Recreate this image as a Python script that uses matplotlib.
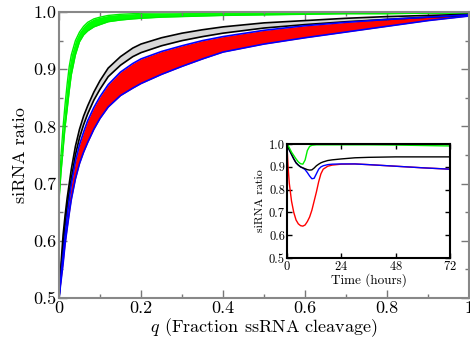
import numpy as np
import matplotlib.pyplot as plt
from matplotlib.ticker import MultipleLocator

plt.rcParams['font.family'] = 'serif'
plt.rcParams['font.serif'] = ['cmr10', 'DejaVu Serif']
plt.rcParams['mathtext.fontset'] = 'cm'
plt.rcParams['axes.formatter.use_mathtext'] = True

# main panel: ratio vs q, three bands (lower / upper edge)
q = [0, 0.0025, 0.005, 0.0075, 0.01, 0.015, 0.02, 0.025, 0.03, 0.04,
     0.05, 0.06, 0.07, 0.085, 0.1, 0.12, 0.15, 0.18, 0.2, 0.25,
     0.3, 0.35, 0.4, 0.5, 0.6, 0.7, 0.8, 0.9, 1.0]
green_lo = [0.67, 0.695, 0.72, 0.74, 0.76, 0.80, 0.83, 0.862, 0.89, 0.925,
            0.948, 0.96, 0.967, 0.974, 0.978, 0.983, 0.986, 0.988, 0.989, 0.991,
            0.992, 0.993, 0.994, 0.995, 0.996, 0.997, 0.997, 0.998, 0.998]
green_hi = [0.68, 0.715, 0.75, 0.775, 0.80, 0.84, 0.875, 0.905, 0.925, 0.95,
            0.965, 0.975, 0.982, 0.988, 0.991, 0.994, 0.996, 0.997, 0.998, 0.9985,
            0.999, 0.9993, 0.9995, 1.0, 1.0, 1.0, 1.0, 1.0, 1.0]
black_lo = [0.5, 0.525, 0.55, 0.57, 0.59, 0.628, 0.66, 0.685, 0.708, 0.75,
            0.78, 0.803, 0.822, 0.846, 0.865, 0.887, 0.907, 0.922, 0.929, 0.941,
            0.95, 0.957, 0.963, 0.972, 0.978, 0.983, 0.987, 0.991, 0.994]
black_hi = [0.5, 0.53, 0.56, 0.585, 0.61, 0.645, 0.675, 0.70, 0.725, 0.765,
            0.795, 0.818, 0.836, 0.86, 0.88, 0.902, 0.922, 0.937, 0.944, 0.955,
            0.963, 0.969, 0.974, 0.981, 0.985, 0.989, 0.992, 0.994, 0.996]
red_lo = [0.5, 0.515, 0.53, 0.545, 0.56, 0.595, 0.622, 0.648, 0.672, 0.708,
          0.735, 0.755, 0.772, 0.795, 0.814, 0.834, 0.854, 0.867, 0.875, 0.891,
          0.905, 0.918, 0.93, 0.944, 0.955, 0.965, 0.975, 0.985, 0.993]
red_hi = [0.5, 0.52, 0.54, 0.558, 0.575, 0.61, 0.643, 0.672, 0.698, 0.738,
          0.768, 0.79, 0.81, 0.833, 0.852, 0.873, 0.895, 0.91, 0.918, 0.931,
          0.941, 0.95, 0.957, 0.968, 0.976, 0.982, 0.987, 0.991, 0.995]

# inset: ratio vs time (hours)
t = [0, 0.5, 1, 2, 3, 4, 5, 6, 7, 8, 9, 10, 11, 12, 13, 14, 15, 16,
     18, 20, 24, 30, 36, 48, 60, 72]
g_t = [1.0, 0.993, 0.985, 0.965, 0.95, 0.935, 0.922, 0.914, 0.912, 0.93, 0.972,
       0.99, 0.995, 0.996, 0.997, 0.997, 0.997, 0.997, 0.997, 0.997, 0.997,
       0.997, 0.997, 0.996, 0.994, 0.992]
k_t = [1.0, 0.988, 0.975, 0.955, 0.935, 0.918, 0.908, 0.90, 0.896, 0.892, 0.888,
       0.886, 0.887, 0.895, 0.905, 0.912, 0.918, 0.922, 0.928, 0.931, 0.935,
       0.94, 0.942, 0.944, 0.944, 0.944]
b_t = [1.0, 0.988, 0.975, 0.955, 0.935, 0.918, 0.908, 0.90, 0.895, 0.888, 0.875,
       0.86, 0.848, 0.85, 0.87, 0.89, 0.90, 0.905, 0.91, 0.912, 0.913,
       0.913, 0.91, 0.903, 0.896, 0.89]
r_t = [0.99, 0.90, 0.83, 0.75, 0.70, 0.667, 0.65, 0.642, 0.64, 0.645, 0.66,
       0.68, 0.71, 0.75, 0.79, 0.835, 0.87, 0.89, 0.903, 0.908, 0.912,
       0.913, 0.91, 0.903, 0.896, 0.89]

fig = plt.figure(figsize=(4.7, 3.43), dpi=100)
ax = fig.add_axes([0.1255, 0.131, 0.8725, 0.834])

ax.fill_between(q, green_lo, green_hi, color='#00ff00', lw=0)
ax.plot(q, green_lo, color='#00ee00', lw=1)
ax.plot(q, green_hi, color='#00ee00', lw=1)
ax.fill_between(q, black_lo, black_hi, color='#d8d8d8', lw=0)
ax.plot(q, black_lo, color='black', lw=1.2)
ax.plot(q, black_hi, color='black', lw=1.2)
ax.fill_between(q, red_lo, red_hi, color='#ff0000', lw=0)
ax.plot(q, red_lo, color='blue', lw=1.2)
ax.plot(q, red_hi, color='blue', lw=1.2)

ax.set_xlim(0, 1)
ax.set_ylim(0.5, 1.0)
ax.set_xticks([0, 0.2, 0.4, 0.6, 0.8, 1.0])
ax.set_xticklabels(['0', '0.2', '0.4', '0.6', '0.8', '1'])
ax.set_yticks([0.5, 0.6, 0.7, 0.8, 0.9, 1.0])
ax.set_yticklabels(['0.5', '0.6', '0.7', '0.8', '0.9', '1.0'])
ax.xaxis.set_minor_locator(MultipleLocator(0.1))
ax.yaxis.set_minor_locator(MultipleLocator(0.05))
ax.tick_params(which='both', direction='in', top=True, right=True,
               color='#777777', labelsize=13, pad=2)
ax.tick_params(which='major', length=6, width=1)
ax.tick_params(which='minor', length=3, width=1)
for s in ax.spines.values():
    s.set_color('#888888')
    s.set_linewidth(1.5)
ax.set_xlabel(r'$q$ (Fraction ssRNA cleavage)', fontsize=13, labelpad=0)
ax.set_ylabel('siRNA ratio', fontsize=13, labelpad=4)

ins = fig.add_axes([0.6106, 0.2478, 0.3468, 0.332])
ins.plot(t, r_t, color='red', lw=1)
ins.plot(t, b_t, color='blue', lw=1)
ins.plot(t, k_t, color='black', lw=1)
ins.plot(t, g_t, color='#00ee00', lw=1)
ins.set_xlim(0, 72)
ins.set_ylim(0.5, 1.0)
ins.set_xticks([0, 24, 48, 72])
ins.set_yticks([0.5, 0.6, 0.7, 0.8, 0.9, 1.0])
ins.set_yticklabels(['0.5', '0.6', '0.7', '0.8', '0.9', '1.0'])
ins.tick_params(direction='in', top=True, right=True, length=3.5, width=1,
                labelsize=9, pad=1.5)
for s in ins.spines.values():
    s.set_linewidth(1.5)
ins.set_xlabel('Time (hours)', fontsize=9.5, labelpad=0)
ins.set_ylabel('siRNA ratio', fontsize=8.5, labelpad=3)

fig.savefig('out.png', dpi=100)
